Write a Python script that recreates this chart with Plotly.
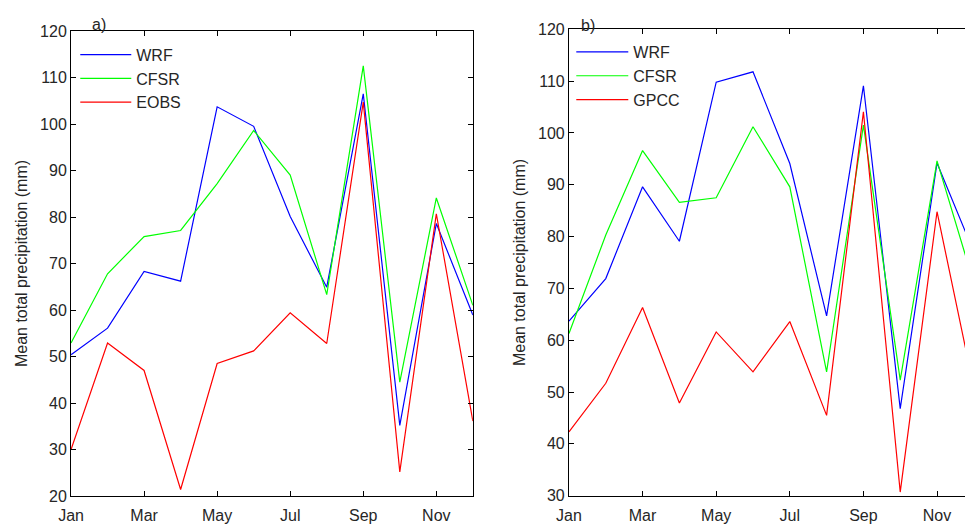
import plotly.graph_objects as go

months = list(range(1, 13))
month_ticks = [1, 3, 5, 7, 9, 11]
month_labels = ["Jan", "Mar", "May", "Jul", "Sep", "Nov"]

# Panel a)
wrf_a = [50.4, 56.1, 68.3, 66.2, 103.7, 99.5, 80.1, 64.9, 106.5, 35.2, 78.6, 58.9]
cfsr_a = [52.9, 67.8, 75.8, 77.1, 87.2, 98.6, 89.0, 63.3, 112.5, 44.5, 84.1, 61.0]
eobs_a = [30.0, 52.9, 47.0, 21.4, 48.5, 51.2, 59.4, 52.8, 104.7, 25.2, 80.7, 36.1]

# Panel b)
wrf_b = [63.7, 71.9, 89.6, 79.1, 109.8, 111.8, 94.1, 64.7, 109.1, 46.8, 94.2, 77.0]
cfsr_b = [61.3, 80.3, 96.6, 86.6, 87.5, 101.2, 89.6, 53.9, 101.5, 52.3, 94.6, 71.0]
gpcc_b = [42.3, 51.7, 66.3, 47.9, 61.6, 53.9, 63.6, 45.5, 104.1, 30.7, 84.8, 50.8]

yticks_a = [20, 30, 40, 50, 60, 70, 80, 90, 100, 110, 120]
yticks_b = [30, 40, 50, 60, 70, 80, 90, 100, 110, 120]

BLUE, GREEN, RED = "#0000FF", "#00FF00", "#FF0000"
FONT = "Liberation Sans, Arial, sans-serif"
TXT = "#262626"

fig = go.Figure()
for name, vals, col in [("WRF", wrf_a, BLUE), ("CFSR", cfsr_a, GREEN), ("EOBS", eobs_a, RED)]:
    fig.add_trace(go.Scatter(x=months, y=vals, mode="lines", name=name,
                             line=dict(color=col, width=1.2), xaxis="x", yaxis="y",
                             legend="legend"))
for name, vals, col in [("WRF", wrf_b, BLUE), ("CFSR", cfsr_b, GREEN), ("GPCC", gpcc_b, RED)]:
    fig.add_trace(go.Scatter(x=months, y=vals, mode="lines", name=name,
                             line=dict(color=col, width=1.2), xaxis="x2", yaxis="y2",
                             legend="legend2"))

axis_common = dict(showgrid=False, zeroline=False, showline=True, linecolor="black",
                   linewidth=1, ticks="inside", ticklen=5, tickcolor="black",
                   automargin=False,
                   tickfont=dict(family=FONT, size=16, color=TXT))

fig.update_layout(
    width=965, height=531,
    margin=dict(l=0, r=0, t=0, b=0, pad=0),
    paper_bgcolor="white", plot_bgcolor="white",
    hovermode=False,
    font=dict(family=FONT, size=16, color=TXT),
    xaxis=dict(domain=[0.0736, 0.490], range=[1, 12], tickvals=month_ticks,
               ticktext=month_labels, mirror="ticks", anchor="y",
               ticklabelstandoff=5, **axis_common),
    yaxis=dict(domain=[0.0659, 0.9416], range=[20, 120], tickvals=yticks_a,
               mirror="ticks", anchor="x",
               title=dict(text="Mean total precipitation (mm)", font=dict(family=FONT, size=16, color=TXT), standoff=8),
               **axis_common),
    xaxis2=dict(domain=[0.5896, 1.0], range=[1, 11.76], tickvals=month_ticks,
                ticktext=month_labels, mirror="ticks", anchor="y2",
                ticklabelstandoff=5, **axis_common),
    yaxis2=dict(domain=[0.0665, 0.9448], range=[30, 120], tickvals=yticks_b,
                mirror=False, anchor="x2",
                title=dict(text="Mean total precipitation (mm)", font=dict(family=FONT, size=16, color=TXT), standoff=8),
                **axis_common),
    legend=dict(x=0.078, y=0.929, xanchor="left", yanchor="top", bgcolor="rgba(0,0,0,0)",
                borderwidth=0, font=dict(family=FONT, size=16, color=TXT),
                tracegroupgap=0, itemwidth=51),
    legend2=dict(x=0.592, y=0.934, xanchor="left", yanchor="top", bgcolor="rgba(0,0,0,0)",
                 borderwidth=0, font=dict(family=FONT, size=16, color=TXT),
                 tracegroupgap=0, itemwidth=52),
    annotations=[
        dict(text="a)", x=90 / 965, y=1 - 14 / 531, xref="paper", yref="paper",
             showarrow=False, font=dict(family=FONT, size=16, color=TXT)),
        dict(text="b)", x=588 / 965, y=1 - 15 / 531, xref="paper", yref="paper",
             showarrow=False, font=dict(family=FONT, size=16, color=TXT)),
    ],
)

fig.write_html("out.html")
